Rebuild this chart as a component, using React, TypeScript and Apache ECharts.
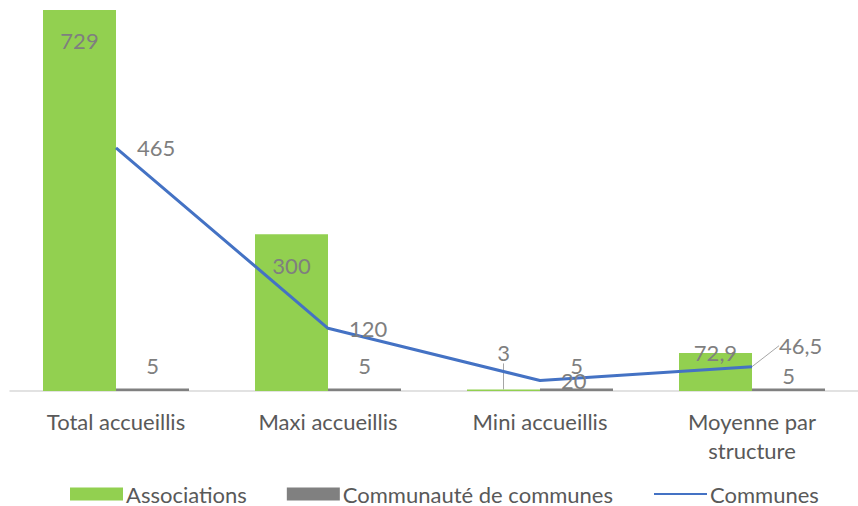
import React, { useEffect, useRef } from "react";
import * as echarts from "echarts";

const categories = ["Total accueillis", "Maxi accueillis", "Mini accueillis", "Moyenne par\nstructure"];
const associations = [729, 300, 3, 72.9];
const communauteDeCommunes = [5, 5, 5, 5];
const communes = [465, 120, 20, 46.5];
const seriesNames = ["Associations", "Communauté de communes", "Communes"];

const FONT = "Lato";
const LABEL_COLOR = "#7f7f7f";
const FS = 22;
const fmt = (v: number) => String(v).replace(".", ",");
const leader = { show: true, lineStyle: { color: "#a6a6a6", width: 1 } };

export default function App() {
  const ref = useRef<HTMLDivElement>(null);
  useEffect(() => {
    if (!ref.current) return;
    const chart = echarts.init(ref.current, undefined, { renderer: "svg" });
    chart.setOption({
      animation: false,
      textStyle: { fontFamily: FONT },
      grid: { left: 10, width: 854, top: 0, height: 391 },
      legend: {
        top: 478,
        left: 65,
        itemWidth: 53,
        itemHeight: 13,
        itemGap: 40,
        textStyle: { color: "#595959", fontSize: FS, fontFamily: FONT, padding: [0, 0, 0, -2] },
        data: [
          { name: seriesNames[0], icon: "rect" },
          { name: seriesNames[1], icon: "rect" },
          {
            name: seriesNames[2],
            itemStyle: { color: "rgba(0,0,0,0)", borderColor: "rgba(0,0,0,0)", borderWidth: 0 },
          },
        ],
      },
      xAxis: {
        type: "category",
        data: categories,
        axisLine: { lineStyle: { color: "#d9d9d9", width: 1.5 } },
        axisTick: { show: false },
        axisLabel: { color: "#595959", fontSize: FS, margin: 16, lineHeight: 29, fontFamily: FONT },
      },
      yAxis: { type: "value", min: 0, max: 748, show: false, splitLine: { show: false } },
      series: [
        {
          name: seriesNames[0],
          type: "bar",
          barWidth: 73,
          barGap: "0%",
          itemStyle: { color: "#92D050" },
          data: associations.map((v, i) => ({
            value: v,
            label:
              i < 2
                ? { position: "insideTop", distance: 20 }
                : i === 2
                ? { position: "top", distance: 5 }
                : { position: "top", distance: -11 },
            labelLine: i === 2 ? leader : { show: false },
          })),
          label: {
            show: true,
            color: LABEL_COLOR,
            fontSize: FS,
            fontFamily: FONT,
            formatter: (p: any) => fmt(p.value),
          },
          labelLayout: (p: any) => (p.dataIndex === 2 ? { dy: -21 } : {}),
        },
        {
          name: seriesNames[1],
          type: "bar",
          barWidth: 73,
          itemStyle: { color: "#808080" },
          data: communauteDeCommunes.map((v, i) => ({
            value: v,
            label: { distance: i === 3 ? 2 : 12 },
          })),
          label: {
            show: true,
            position: "top",
            distance: 12,
            color: LABEL_COLOR,
            fontSize: FS,
            fontFamily: FONT,
            formatter: (p: any) => fmt(p.value),
          },
        },
        {
          name: seriesNames[2],
          type: "line",
          symbol: "circle",
          symbolSize: 0.1,
          showSymbol: true,
          lineStyle: { color: "#4472C4", width: 3 },
          itemStyle: { color: "#4472C4" },
          data: communes.map((v, i) => ({
            value: v,
            labelLine: i === 3 ? leader : { show: false },
          })),
          label: {
            show: true,
            position: "right",
            distance: 21,
            color: LABEL_COLOR,
            fontSize: FS,
            fontFamily: FONT,
            formatter: (p: any) => fmt(p.value),
          },
          labelLayout: (p: any) => (p.dataIndex === 3 ? { dx: 6, dy: -21 } : {}),
          z: 5,
        },
      ],
    });
    return () => chart.dispose();
  }, []);
  return <div ref={ref} style={{ width: 858, height: 506, position: "absolute", left: 0, top: 0 }} />;
}
